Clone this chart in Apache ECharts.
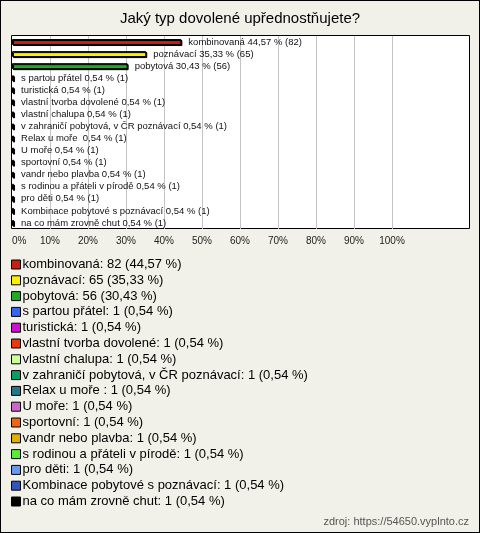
<!DOCTYPE html>
<html><head><meta charset="utf-8">
<script src="https://cdn.jsdelivr.net/npm/echarts@6/dist/echarts.min.js"></script>
<style>
html,body{margin:0;padding:0;}
#c{width:480px;height:533px;box-sizing:border-box;border:1px solid #000;background:#f2f1e9;}
</style></head>
<body><div id="c"></div>
<script>
const categories = ["kombinovaná","poznávací","pobytová","s partou přátel","turistická","vlastní tvorba dovolené","vlastní chalupa","v zahraničí pobytová, v ČR poznávací","Relax u moře ","U moře","sportovní","vandr nebo plavba","s rodinou a přáteli v pírodě","pro děti","Kombinace pobytové s poznávací","na co mám zrovně chut"];
const counts = [82,65,56,1,1,1,1,1,1,1,1,1,1,1,1,1];
const percents = [44.57,35.33,30.43,0.54,0.54,0.54,0.54,0.54,0.54,0.54,0.54,0.54,0.54,0.54,0.54,0.54];
const colors = ["#c8200e","#ffee00","#22aa22","#3366ee","#cc11cc","#e83a10","#ccff99","#119966","#227788","#cc66cc","#ee6611","#e0b000","#55ee33","#6699ee","#3355bb","#000000"];
const xTicks = [0,10,20,30,40,50,60,70,80,90,100];
const fmtNum = v => v.toFixed(2).replace('.', ',');

const series = categories.map((name, i) => ({
  name: name,
  type: 'bar',
  xAxisIndex: 1, yAxisIndex: 1,
  barWidth: 6,
  barGap: '-100%',
  data: categories.map((c, j) => j === i ? percents[i] : '-'),
  itemStyle: {color: colors[i], borderColor: '#000', borderWidth: 1, shadowColor: '#000', shadowOffsetX: 1, shadowOffsetY: 1, shadowBlur: 0},
  label: {show: true, position: 'right', distance: 7, fontSize: 9.5, fontFamily: 'Liberation Sans, Arial, sans-serif', color: '#111',
    formatter: p => name + ' ' + fmtNum(percents[i]) + ' % (' + counts[i] + ')'},
  emphasis: {disabled: true},
  silent: true
}));

const chart = echarts.init(document.getElementById('c'), null, {renderer: 'canvas'});
chart.setOption({
  animation: false,
  backgroundColor: 'transparent',
  title: {text: 'Jaký typ dovolené upřednostňujete?', left: 'center', top: 5,
    textStyle: {fontSize: 15, fontWeight: 'normal', color: '#000', fontFamily: 'Liberation Sans, Arial, sans-serif'}},
  grid: [
    {left: 10.5, right: 9.5, top: 34.5, height: 193, show: true, backgroundColor: '#fff', borderColor: '#000', borderWidth: 1},
    {left: 11, width: 380, top: 35, height: 193}
  ],
  xAxis: [
    {gridIndex: 0, show: false, min: 0, max: 1},
    {gridIndex: 1, type: 'value', min: 0, max: 100, interval: 10,
      axisLine: {show: false}, axisTick: {show: false},
      splitLine: {show: true, showMinLine: false, lineStyle: {color: '#c4c4c4', width: 1}},
      axisLabel: {formatter: v => xTicks.includes(v) ? v + '%' : '', fontSize: 10, color: '#222', margin: 7, alignMinLabel: 'left',
        fontFamily: 'Liberation Sans, Arial, sans-serif'}}
  ],
  yAxis: [
    {gridIndex: 0, show: false, min: 0, max: 1},
    {gridIndex: 1, type: 'category', data: categories, inverse: true, show: false}
  ],
  legend: {
    orient: 'vertical', left: 10, top: 256, padding: 0, itemWidth: 9, itemHeight: 9, itemGap: 0.8, icon: 'rect',
    selectedMode: false,
    data: categories,
    itemStyle: {borderColor: '#000', borderWidth: 1, shadowBlur: 0, shadowOffsetX: 0, shadowOffsetY: 0, shadowColor: 'rgba(0,0,0,0)'},
    textStyle: {fontSize: 13, lineHeight: 15, color: '#000', padding: [0, 0, 0, -3], fontFamily: 'Liberation Sans, Arial, sans-serif'},
    formatter: name => {
      const i = categories.indexOf(name);
      return name + ': ' + counts[i] + ' (' + fmtNum(percents[i]) + ' %)';
    }
  },
  graphic: [{type: 'text', right: 10, bottom: 5, style: {text: 'zdroj: https://54650.vyplnto.cz', fontSize: 11, fill: '#555', fontFamily: 'Liberation Sans, Arial, sans-serif'}}],
  series: series
});
</script></body></html>
